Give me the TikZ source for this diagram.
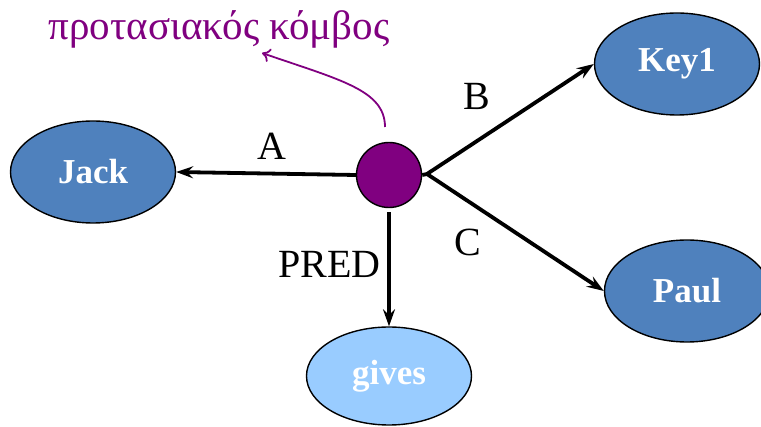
\documentclass[tikz,border=0pt]{standalone}
\usepackage{fontspec}
\setmainfont{Liberation Serif}
\usetikzlibrary{shapes.geometric,arrows.meta}
\definecolor{nodeblue}{HTML}{4F81BD}
\definecolor{lightblue}{HTML}{99CCFF}
\definecolor{purp}{HTML}{800080}
\tikzset{
  word/.style={ellipse,draw=black,line width=1.4pt,minimum width=165pt,minimum height=102pt,inner sep=0pt,text=white,font=\fontsize{35}{40}\selectfont\bfseries},
  rel/.style={line width=3.8pt,-{Stealth[length=17pt,width=12pt,inset=6pt]}},
  lbl/.style={font=\fontsize{40}{44}\selectfont,inner sep=0pt},
}
\begin{document}
\begin{tikzpicture}[x=1pt,y=1pt]
\useasboundingbox (0,0) rectangle (761,-427);
\node[word,fill=nodeblue] (jack) at (93,-172) {Jack};
\node[word,fill=nodeblue] (key) at (677,-64) {Key1};
\node[word,fill=nodeblue] (paul) at (687,-291) {Paul};
\node[word,fill=lightblue,minimum height=98pt] (gives) at (389,-376) {gives};
\node[circle,draw=black,line width=1.4pt,fill=purp,minimum size=65pt,inner sep=0pt] (s) at (389,-175) {};
\coordinate (br) at (427,-174);
\node[lbl,text=purp,font=\fontsize{41}{44}\selectfont] (greek) at (219,-29) {προτασιακός κόμβος};
\coordinate (gstart) at (385,-127);
\coordinate (gend) at (262,-53);
\node[lbl,anchor=base] (la) at (272,-160) {A};
\node[lbl,anchor=base] (lb) at (477,-110) {B};
\node[lbl,anchor=base] (lc) at (468,-256) {C};
\node[lbl,anchor=base east] (lp) at (381,-278) {PRED};
\draw[rel] (s.west) -- (jack.east);
\draw[rel] ([yshift=-4pt]s.south) -- (gives.north);
\draw[line width=3.8pt] (s.east) -- (br);
\draw[rel] (br) -- (key.west);
\draw[rel] (br) -- (paul.west);
\draw[purp,line width=1.8pt,-{To[length=8pt,width=14pt]}] (gstart) .. controls (385,-90) and (340,-80) .. (gend);
\end{tikzpicture}
\end{document}
